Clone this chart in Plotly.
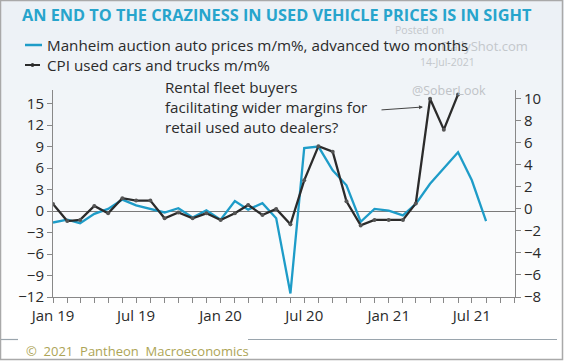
import plotly.graph_objects as go

# ---- data ----
manheim_months = [
    "2019-01", "2019-02", "2019-03", "2019-04", "2019-05", "2019-06", "2019-07", "2019-08",
    "2019-09", "2019-10", "2019-11", "2019-12", "2020-01", "2020-02", "2020-03", "2020-04",
    "2020-05", "2020-06", "2020-07", "2020-08", "2020-09", "2020-10", "2020-11", "2020-12",
    "2021-01", "2021-02", "2021-03", "2021-04", "2021-05", "2021-06", "2021-07", "2021-08",
]
manheim_values = [
    -1.6, -1.2, -1.7, -0.4, 0.3, 1.6, 0.8, 0.3,
    -0.2, 0.4, -0.9, 0.1, -1.2, 1.4, 0.2, 1.1,
    -1.0, -11.5, 8.8, 9.0, 5.7, 3.6, -1.5, 0.3,
    0.05, -0.6, 1.0, 3.8, 6.0, 8.2, 4.3, -1.4,
]
cpi_months = manheim_months[:30]
cpi_values = [
    0.45, -1.1, -1.0, 0.27, -0.4, 0.97, 0.76, 0.76,
    -0.85, -0.33, -0.85, -0.4, -1.0, -0.4, 0.36, -0.55,
    0.0, -1.4, 2.6, 5.7, 5.2, 0.7, -1.5, -1.0,
    -1.0, -1.0, 0.5, 10.0, 7.2, 10.4,
]
left_ticks = [-12, -9, -6, -3, 0, 3, 6, 9, 12, 15]
right_ticks = [-8, -6, -4, -2, 0, 2, 4, 6, 8, 10]

title_text = "AN END TO THE CRAZINESS IN USED VEHICLE PRICES IS IN SIGHT"
legend_manheim = "Manheim auction auto prices m/m%, advanced two months"
legend_cpi = "CPI used cars and trucks m/m%"
note_text = "Rental fleet buyers<br>facilitating wider margins for<br>retail used auto dealers?"
footer_text = "©  2021  Pantheon  Macroeconomics"

# ---- layout geometry (pixels) ----
W, H = 564, 361
L, R, T, B = 53, 49, 90, 64
PW, PH = W - L - R, H - T - B


def px(x):
    return (x - L) / PW


def py(y):
    return (H - B - y) / PH


BLUE = "#1e9cc8"
DARK = "#2b2b2b"
FONT = "Open Sans"

fig = go.Figure()
fig.add_trace(go.Scatter(
    x=[m + "-01" for m in manheim_months], y=manheim_values, mode="lines",
    line=dict(color=BLUE, width=2.3), yaxis="y", showlegend=False,
))
fig.add_trace(go.Scatter(
    x=[m + "-01" for m in cpi_months], y=cpi_values, mode="lines+markers",
    line=dict(color=DARK, width=2.3), marker=dict(size=4, color="#555555"),
    yaxis="y2", showlegend=False,
))

shapes = []
# gradient background bands
n = 37
for i in range(n):
    y0 = i * 10
    t = min(1.0, y0 / 310.0)
    r = int(236 + (255 - 236) * t)
    g = int(241 + (255 - 241) * t)
    b = int(246 + (255 - 246) * t)
    shapes.append(dict(type="rect", xref="paper", yref="paper", layer="below",
                       x0=px(0), x1=px(W), y0=py(y0), y1=py(min(y0 + 10, H)),
                       line=dict(width=0), fillcolor=f"rgb({r},{g},{b})"))
# legend samples
shapes.append(dict(type="line", xref="paper", yref="paper", x0=px(25), x1=px(42),
                   y0=py(45), y1=py(45), line=dict(color=BLUE, width=2.5)))
shapes.append(dict(type="line", xref="paper", yref="paper", x0=px(25), x1=px(40),
                   y0=py(65), y1=py(65), line=dict(color=DARK, width=2)))
shapes.append(dict(type="circle", xref="paper", yref="paper", x0=px(31), x1=px(34),
                   y0=py(63.5), y1=py(66.5), line=dict(color=DARK, width=1), fillcolor=DARK))
# footer divider
for a, b in [(0, 18), (248, 557)]:
    shapes.append(dict(type="line", xref="paper", yref="paper", x0=px(a), x1=px(b),
                       y0=py(339.5), y1=py(339.5), line=dict(color="#9aa5ad", width=1.2)))
# outer frame
shapes.append(dict(type="rect", xref="paper", yref="paper", x0=px(0.5), x1=px(W - 1.5),
                   y0=py(H - 1.5), y1=py(0.5), line=dict(color="#a9a9a9", width=1.5)))

annotations = [
    dict(text="Posted on", x=px(446), y=py(30), font=dict(size=10.5, color="#c3c7cb", family=FONT)),
    dict(text="DailyShot.com", x=px(530), y=py(46), xanchor="right",
         font=dict(size=13, color="#c3c7cb", family=FONT)),
    dict(text="14-Jul-2021", x=px(477), y=py(62), font=dict(size=10.5, color="#c3c7cb", family=FONT)),
    dict(text="@SoberLook", x=px(488), y=py(90), font=dict(size=12.5, color="#bfc3c7", family=FONT)),
    dict(text="<b>" + title_text + "</b>", x=px(20), y=py(15), xanchor="left",
         font=dict(size=16.3, color="#27a4cc", family=FONT)),
    dict(text=legend_manheim, x=px(45), y=py(45), xanchor="left",
         font=dict(size=15.2, color=DARK, family=FONT)),
    dict(text=legend_cpi, x=px(45), y=py(65), xanchor="left",
         font=dict(size=15.2, color=DARK, family=FONT)),
    dict(text=note_text, x=px(163), y=py(107), xanchor="left", align="left",
         font=dict(size=15.2, color=DARK, family=FONT)),
    dict(text="", x=px(423), y=py(107), ax=-43, ay=3, axref="pixel", ayref="pixel",
         showarrow=True, arrowhead=2, arrowsize=0.8, arrowwidth=1, arrowcolor="#444444"),
    dict(text=footer_text, x=px(24), y=py(351), xanchor="left",
         font=dict(size=13, color="#ada456", family=FONT)),
]
for a in annotations:
    a.setdefault("xref", "paper")
    a.setdefault("yref", "paper")
    a.setdefault("showarrow", False)
    a.setdefault("yanchor", "middle")

axis_font = dict(size=15, color="#2a2a2a", family=FONT)
fig.update_layout(
    width=W, height=H,
    margin=dict(l=L, r=R, t=T, b=B, pad=0),
    paper_bgcolor="white", plot_bgcolor="rgba(0,0,0,0)",
    shapes=shapes, annotations=annotations,
    xaxis=dict(
        type="date", range=["2019-01-01", "2021-10-03"],
        tick0="2019-01-01", dtick="M6", tickformat="%b %y",
        ticks="outside", ticklen=5, tickcolor="#888888",
        showline=True, linecolor="#888888", linewidth=1,
        showgrid=False, zeroline=False, tickfont=axis_font,
        minor=dict(dtick="M1", ticks="outside", ticklen=5, tickcolor="#888888", showgrid=False),
    ),
    yaxis=dict(
        range=[-12, 16.9], tickvals=left_ticks, ticks="outside", ticklen=5,
        tickcolor="#888888", showline=True, linecolor="#888888", linewidth=1,
        showgrid=False, zeroline=True, zerolinecolor="#7a7a7a", zerolinewidth=1,
        tickfont=axis_font,
    ),
    yaxis2=dict(
        range=[-8, 10.8], tickvals=right_ticks, overlaying="y", side="right",
        ticks="outside", ticklen=5, tickcolor="#888888", showline=True,
        linecolor="#888888", linewidth=1, showgrid=False, zeroline=False,
        tickfont=axis_font,
    ),
)

fig.write_html("out.html", config={"displayModeBar": False},
               post_script="document.body.style.margin='0';")
